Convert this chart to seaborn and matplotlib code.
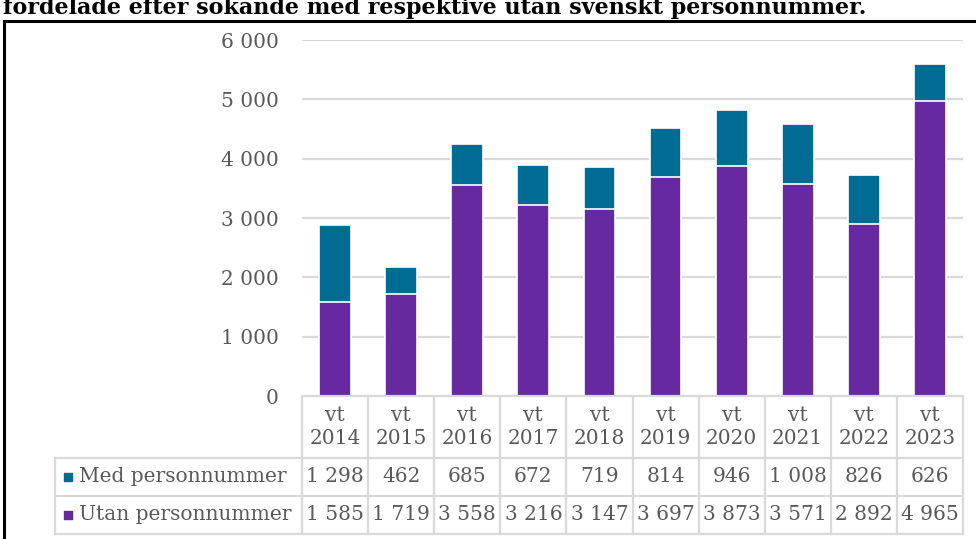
import matplotlib
matplotlib.use("Agg")
import matplotlib.pyplot as plt
import pandas as pd
import seaborn as sns

# data
terms = ["vt\n2014", "vt\n2015", "vt\n2016", "vt\n2017", "vt\n2018",
         "vt\n2019", "vt\n2020", "vt\n2021", "vt\n2022", "vt\n2023"]
med = [1298, 462, 685, 672, 719, 814, 946, 1008, 826, 626]
utan = [1585, 1719, 3558, 3216, 3147, 3697, 3873, 3571, 2892, 4965]
series_names = ["Med personnummer", "Utan personnummer"]
yticks = [0, 1000, 2000, 3000, 4000, 5000, 6000]
title = "fördelade efter sökande med respektive utan svenskt personnummer."

TEAL = "#006C93"
PURPLE = "#6629A0"
GREY_TXT = "#595959"
GRID = "#D9D9D9"


def fmt(v):
    return f"{v:,}".replace(",", " ")


df = pd.DataFrame({"term": terms, "med": med, "utan": utan})
df["total"] = df["med"] + df["utan"]

sns.set_theme(style="white")
plt.rcParams["font.family"] = ["DejaVu Serif"]

W, H = 976, 539
fig = plt.figure(figsize=(W / 100, H / 100), dpi=100)


def rect(l, t, r, b):
    return [l / W, 1 - b / H, (r - l) / W, (b - t) / H]


# outer frame (runs off the right and bottom edges)
fig.add_artist(plt.Rectangle((4 / W, -0.1), 1.2, 1.1 - 21 / H, transform=fig.transFigure,
                             fill=False, edgecolor="black", linewidth=2.2))
# heading sits partly above the crop, like in the source screenshot
fig.text(3 / W, 1 - 14 / H, title, fontsize=16, fontweight="bold", color="black",
         va="baseline", ha="left")

ax = fig.add_axes(rect(302, 40, 963, 396))
sns.barplot(data=df, x="term", y="total", color=TEAL, saturation=1, width=0.48,
            edgecolor="white", linewidth=1.2, ax=ax, zorder=3)
sns.barplot(data=df, x="term", y="utan", color=PURPLE, saturation=1, width=0.48,
            edgecolor="white", linewidth=1.2, ax=ax, zorder=4)
ax.set_xlim(-0.5, len(terms) - 0.5)
ax.set_ylim(0, 6000)
ax.set_yticks(yticks)
ax.set_yticklabels([fmt(v) for v in yticks])
ax.tick_params(axis="y", length=0, pad=17, labelsize=14.5, labelcolor=GREY_TXT)
ax.set_xticks([])
ax.set_xlabel("")
ax.set_ylabel("")
for s in ax.spines.values():
    s.set_visible(False)
for v in yticks[1:]:
    ax.axhline(v, color=GRID, linewidth=1.6, zorder=1)

# data table below the bars
tab = fig.add_axes(rect(55, 396, 963, 534))
n = len(terms)
col_w = (963 - 302) / n
lab_w = (302 - 55) / col_w
left = -0.5 - lab_w
tab.set_xlim(left, n - 0.5)
tab.set_ylim(138, 0)
tab.axis("off")

lkw = dict(color=GRID, linewidth=1.6, clip_on=False)
tab.plot([-0.5, n - 0.5], [0, 0], **lkw)
for yy in (62, 100, 138):
    tab.plot([left, n - 0.5], [yy, yy], **lkw)
for k in range(n + 1):
    tab.plot([k - 0.5, k - 0.5], [0, 138], **lkw)
tab.plot([left, left], [62, 138], **lkw)

for i, t in enumerate(terms):
    tab.text(i, 31, t, ha="center", va="center", fontsize=14.5, color=GREY_TXT,
             linespacing=1.3)
    tab.text(i, 81, fmt(med[i]), ha="center", va="center", fontsize=14.5, color=GREY_TXT)
    tab.text(i, 119, fmt(utan[i]), ha="center", va="center", fontsize=14.5, color=GREY_TXT)

for name, col, yy in zip(series_names, [TEAL, PURPLE], [81, 119]):
    tab.scatter([left + 13 / col_w], [yy], marker="s", s=40, color=col, clip_on=False)
    tab.text(left + 24 / col_w, yy, name, ha="left", va="center", fontsize=14.5,
             color=GREY_TXT)

fig.savefig("out.png", dpi=100)
